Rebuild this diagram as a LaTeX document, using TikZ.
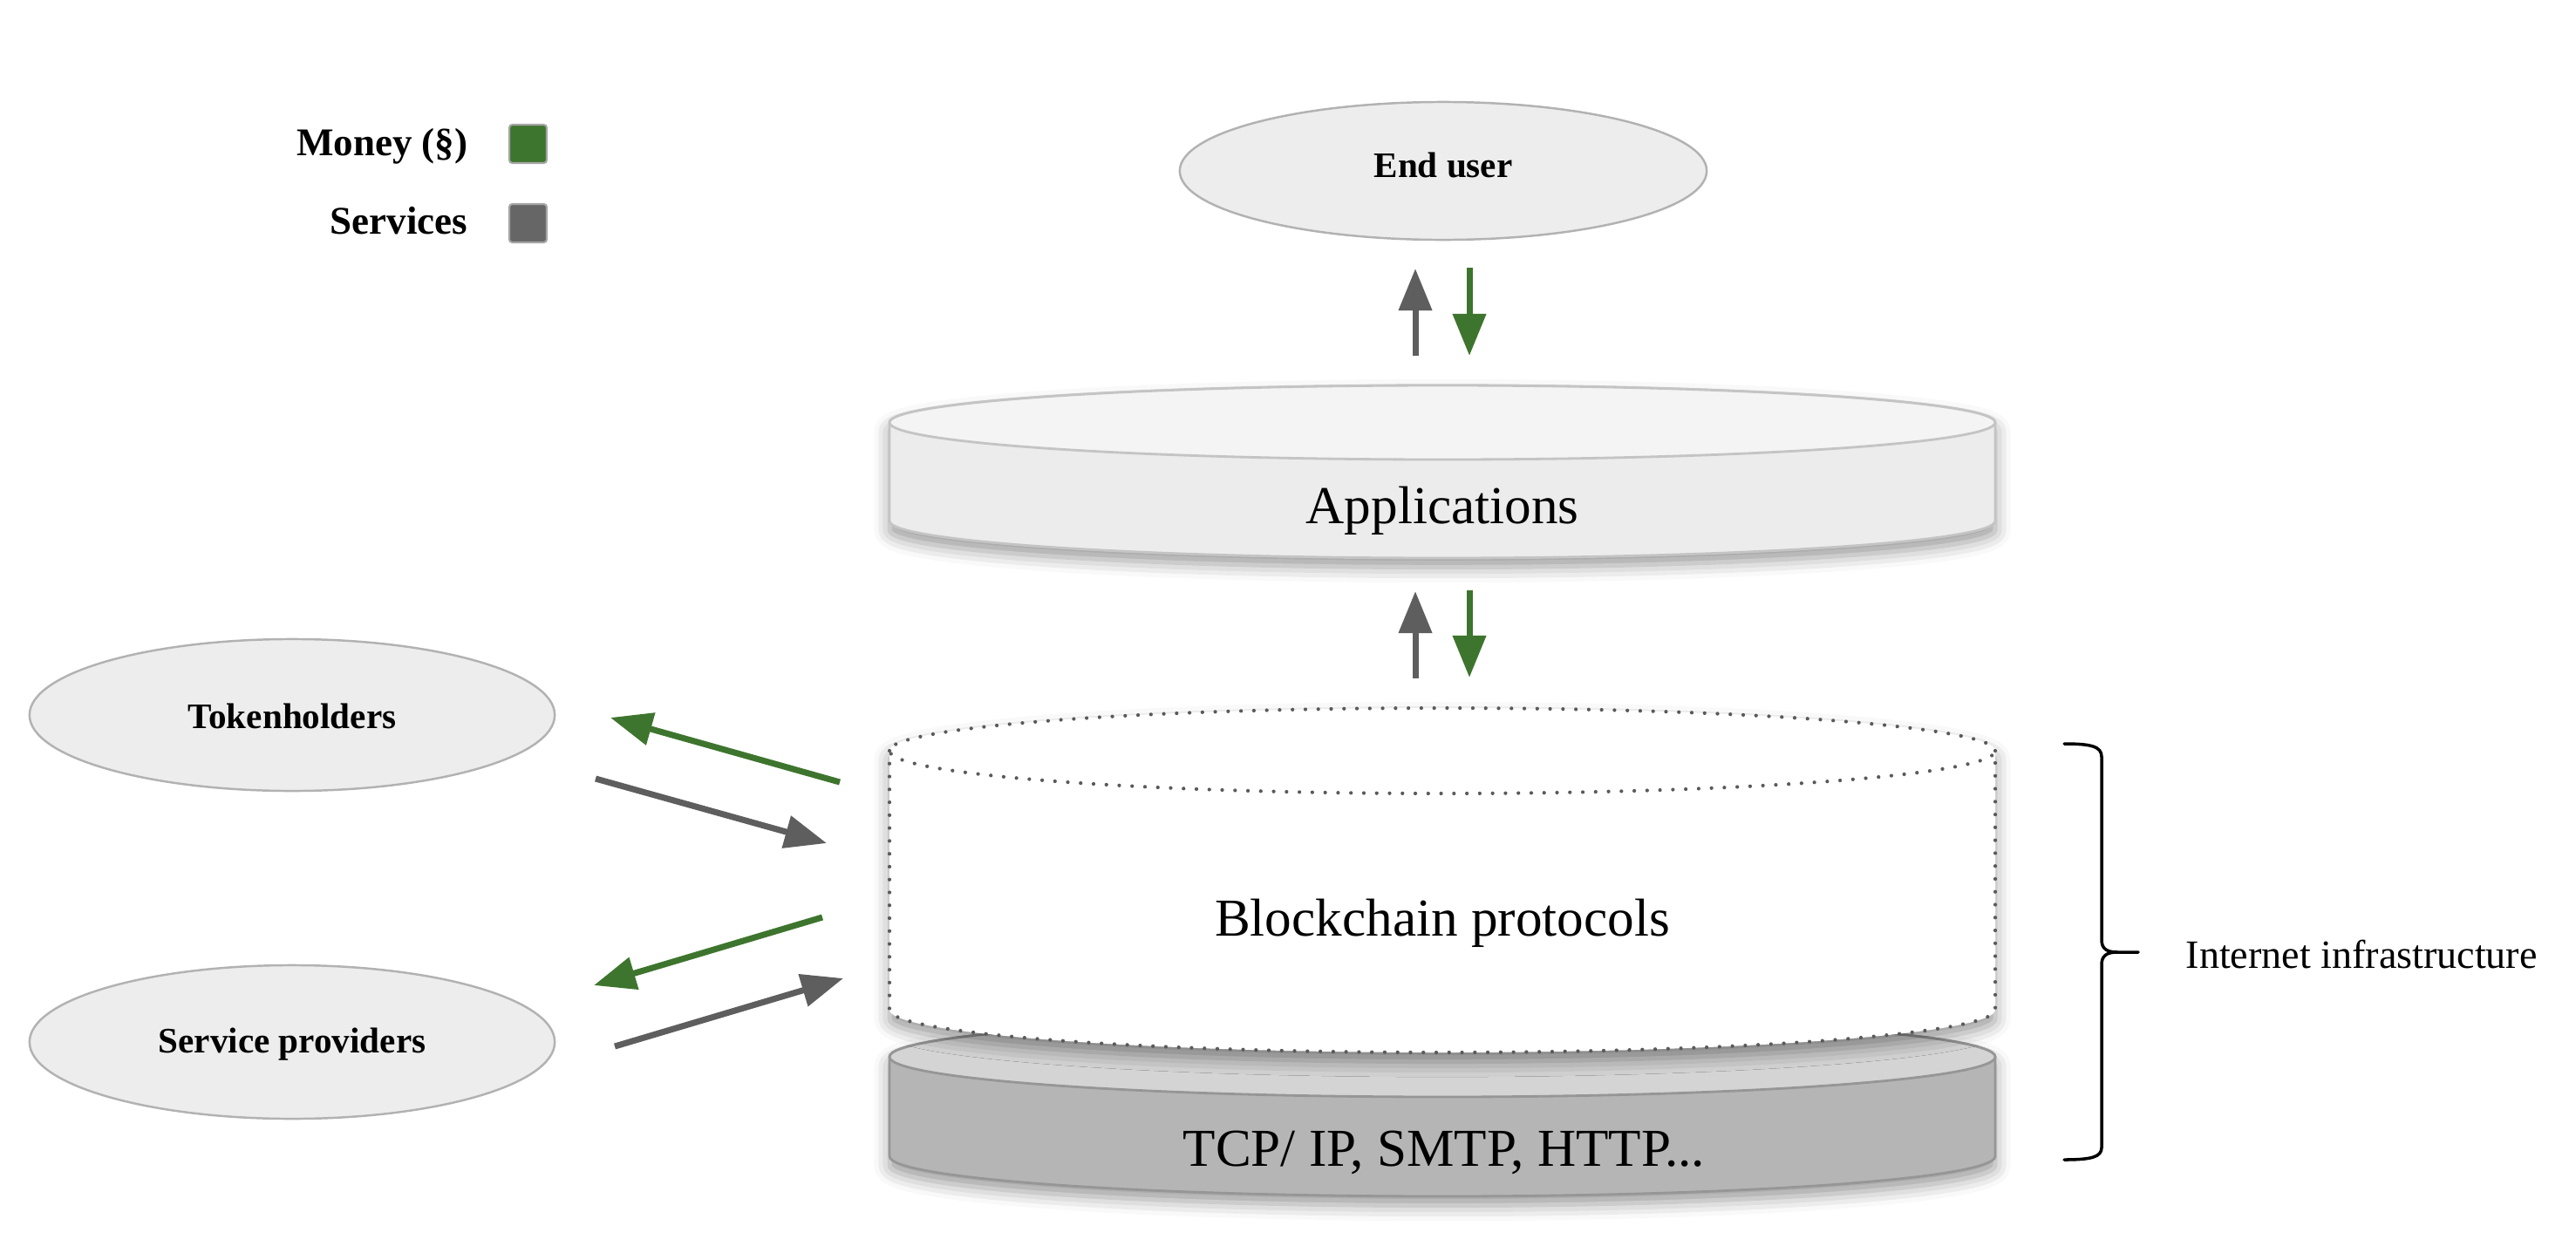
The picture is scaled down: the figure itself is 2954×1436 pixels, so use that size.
\documentclass[tikz,border=0pt]{standalone}
\usepackage{fontspec}
\setmainfont{Liberation Serif}
\usetikzlibrary{arrows.meta,shapes.geometric,shadows.blur}
\definecolor{mgreen}{RGB}{62,117,46}
\definecolor{sgray}{RGB}{94,94,94}
\definecolor{ellfill}{RGB}{237,237,237}
\definecolor{elldraw}{RGB}{178,178,178}
\definecolor{apptop}{RGB}{244,244,244}
\definecolor{appside}{RGB}{236,236,236}
\definecolor{appdraw}{RGB}{196,196,196}
\definecolor{tcptop}{RGB}{212,212,212}
\definecolor{tcpside}{RGB}{181,181,181}
\definecolor{tcpdraw}{RGB}{150,150,150}
\definecolor{dotgray}{RGB}{90,90,90}
\tikzset{
  actor/.style={ellipse, fill=ellfill, draw=elldraw, line width=0.7pt, inner sep=0pt},
  boldlabel/.style={font=\fontsize{11.7pt}{14pt}\selectfont\bfseries, inner sep=0pt, anchor=base},
  legendlabel/.style={font=\fontsize{12.8pt}{15pt}\selectfont\bfseries, inner sep=0pt, anchor=base east},
  layerlabel/.style={font=\fontsize{17.4pt}{20pt}\selectfont, inner sep=0pt, anchor=base},
  moneyflow/.style={draw=mgreen, line width=2pt, -{Triangle[length=0.48cm,width=0.37cm]}, color=mgreen},
  serviceflow/.style={draw=sgray, line width=2pt, -{Triangle[length=0.48cm,width=0.37cm]}, color=sgray},
  softshadow/.style={blur shadow={shadow xshift=0pt, shadow yshift=-3pt, shadow blur radius=5pt, shadow opacity=40}},
  dotline/.style={draw=dotgray, line width=1.2pt, line cap=round, dash pattern=on 0pt off 4.2pt},
  legendbox/.style={draw=gray!70, line width=0.6pt, rounded corners=1pt}
}
\begin{document}
\begin{tikzpicture}[x=0.01cm, y=0.01cm]
\useasboundingbox (0,0) rectangle (2954,-1436);

% Legend
\node[legendlabel] (money) at (537,-178) {Money (§)};
\node[legendlabel] (services) at (537,-268) {Services};
\fill[mgreen] (584,-143) rectangle (627,-187);
\draw[legendbox] (584,-143) rectangle (627,-187);
\fill[gray!80!black] (584,-234) rectangle (627,-278);
\draw[legendbox] (584,-234) rectangle (627,-278);

% TCP layer
\path[softshadow, fill=tcpside, draw=tcpdraw, line width=0.8pt]
  (1020,-1212) -- (1020,-1326) arc[start angle=180, end angle=360, x radius=634, y radius=46]
  -- (2288,-1212) arc[start angle=0, end angle=180, x radius=634, y radius=46] -- cycle;
\path[fill=tcptop, draw=tcpdraw, line width=0.8pt] (1654,-1212) ellipse[x radius=634, y radius=46];
\node[layerlabel] (tcp) at (1656,-1337) {TCP/ IP, SMTP, HTTP...};

% Blockchain layer
\path[softshadow, fill=white]
  (1020,-861) -- (1020,-1158) arc[start angle=180, end angle=360, x radius=634, y radius=49]
  -- (2288,-861) arc[start angle=0, end angle=180, x radius=634, y radius=49] -- cycle;
\path[dotline]
  (1020,-861) -- (1020,-1158) arc[start angle=180, end angle=360, x radius=634, y radius=49]
  -- (2288,-861);
\path[dotline] (1654,-861) ellipse[x radius=634, y radius=49];
\node[layerlabel] (chain) at (1654,-1073) {Blockchain protocols};

% Applications layer
\path[softshadow, fill=appside, draw=appdraw, line width=0.8pt]
  (1020,-484.5) -- (1020,-597.5) arc[start angle=180, end angle=360, x radius=634, y radius=42.5]
  -- (2288,-484.5) arc[start angle=0, end angle=180, x radius=634, y radius=42.5] -- cycle;
\path[fill=apptop, draw=appdraw, line width=0.8pt] (1654,-484.5) ellipse[x radius=634, y radius=42.5];
\node[layerlabel] (apps) at (1654,-600) {Applications};

% Actors
\node[actor, minimum width=6.04cm, minimum height=1.58cm] (enduser) at (1655,-196) {};
\node[boldlabel] at (1655,-203) {End user};
\node[actor, minimum width=6.02cm, minimum height=1.74cm] (tokenholders) at (335,-820) {};
\node[boldlabel] at (335,-835) {Tokenholders};
\node[actor, minimum width=6.02cm, minimum height=1.76cm] (providers) at (335,-1195) {};
\node[boldlabel] at (335,-1207) {Service providers};

% Flow endpoints
\coordinate (eu1) at (1623,-408); \coordinate (eu2) at (1623,-308);
\coordinate (eu3) at (1685,-307); \coordinate (eu4) at (1685,-408);
\coordinate (ap1) at (1623,-778); \coordinate (ap2) at (1623,-678);
\coordinate (ap3) at (1685,-677); \coordinate (ap4) at (1685,-777);
\coordinate (th1) at (963,-897);  \coordinate (th2) at (700,-823);
\coordinate (th3) at (683,-893);  \coordinate (th4) at (948,-967);
\coordinate (sp1) at (943,-1052); \coordinate (sp2) at (681,-1130);
\coordinate (sp3) at (705,-1200); \coordinate (sp4) at (967,-1122);

\draw[serviceflow] (eu1) -- (eu2);
\draw[moneyflow] (eu3) -- (eu4);
\draw[serviceflow] (ap1) -- (ap2);
\draw[moneyflow] (ap3) -- (ap4);
\draw[moneyflow] (th1) -- (th2);
\draw[serviceflow] (th3) -- (th4);
\draw[moneyflow] (sp1) -- (sp2);
\draw[serviceflow] (sp3) -- (sp4);

% Brace
\coordinate (bt) at (2367,-853);
\coordinate (bb) at (2367,-1330);
\coordinate (btip) at (2452,-1092);
\draw[line width=1pt, line cap=round, line join=round]
  (bt) .. controls (2398,-853) and (2410,-856) .. (2410,-868)
  -- (2410,-1078) .. controls (2410,-1088) and (2416,-1092) .. (2428,-1092)
  -- (btip);
\draw[line width=1pt, line cap=round, line join=round]
  (2428,-1092) .. controls (2416,-1092) and (2410,-1096) .. (2410,-1106)
  -- (2410,-1316) .. controls (2410,-1327) and (2398,-1330) .. (bb);
\node[font=\fontsize{13.1pt}{16pt}\selectfont, inner sep=0pt, anchor=base west] (infra) at (2506,-1110) {Internet infrastructure};
\end{tikzpicture}
\end{document}
